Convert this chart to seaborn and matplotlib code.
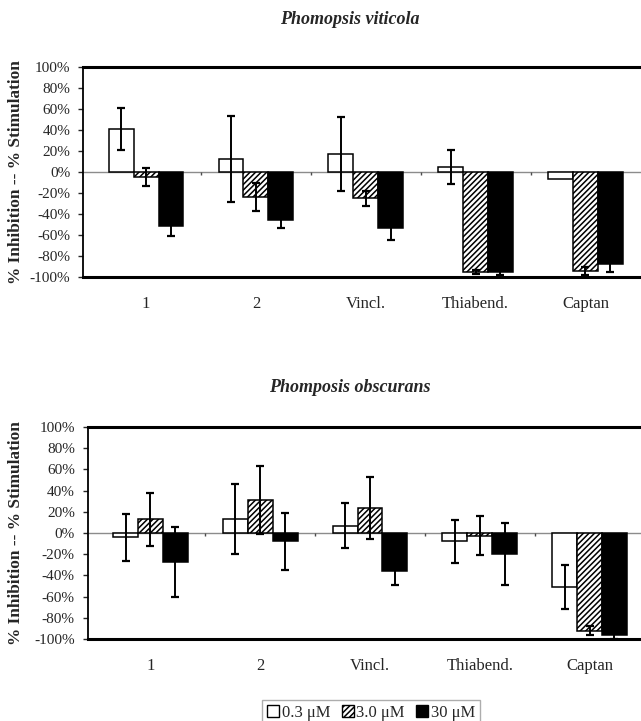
"""
Fungicide screen: % inhibition / % stimulation of two Phomopsis species
at three concentrations, drawn as grouped bars with error bars.
"""

import numpy as np
import pandas as pd
import seaborn as sns
import matplotlib.pyplot as plt
from matplotlib.patches import Patch
from matplotlib.ticker import FuncFormatter

# ---------------------------------------------------------------------------
# Data
# ---------------------------------------------------------------------------
compounds = ["1", "2", "Vincl.", "Thiabend.", "Captan"]
concs = ["0.3 \u03bcM", "3.0 \u03bcM", "30 \u03bcM"]

# Phomopsis viticola
vit_low = [41, 12, 17, 5, -7]
vit_mid = [-5, -23.5, -25, -95.5, -94]
vit_high = [-51, -46, -53, -95, -88]
vit_low_err = [20, 41, 35, 16, np.nan]
vit_mid_err = [8.5, 13.5, 7, 2, 4]
vit_high_err = [10, 7, 12, 3.5, 7]

# Phomposis obscurans
obs_low = [-4, 13, 7, -8, -51]
obs_mid = [13, 31, 23.5, -2.5, -92]
obs_high = [-27, -8, -35.5, -20, -96]
obs_low_err = [22, 33, 21, 20, 21]
obs_mid_err = [25, 32, 29.5, 18.5, 4.5]
obs_high_err = [33, 26.5, 14, 29.5, 4]

titles = ["Phomopsis viticola", "Phomposis obscurans"]
ylabel = "% Inhibition -- % Stimulation"


def make_frame(low, mid, high, low_err, mid_err, high_err):
    # long table: one row per compound / concentration
    rows = []
    for vals, errs, conc in [(low, low_err, concs[0]), (mid, mid_err, concs[1]), (high, high_err, concs[2])]:
        for comp, v, e in zip(compounds, vals, errs):
            rows.append({"compound": comp, "conc": conc, "value": v, "err": e})
    return pd.DataFrame(rows)


frames = [
    make_frame(vit_low, vit_mid, vit_high, vit_low_err, vit_mid_err, vit_high_err),
    make_frame(obs_low, obs_mid, obs_high, obs_low_err, obs_mid_err, obs_high_err),
]

# ---------------------------------------------------------------------------
# Styling
# ---------------------------------------------------------------------------
sns.set_style("white")
plt.rcParams["font.family"] = ["Liberation Serif", "DejaVu Serif"]
plt.rcParams["hatch.linewidth"] = 1.1
plt.rcParams["hatch.color"] = "black"

fig = plt.figure(figsize=(6.41, 7.21), dpi=100)
W, H = 641, 721

# axes boxes in pixels: left, top, right, bottom (right edge runs off the page)
boxes = [(83, 67, 648.5, 277), (87.5, 427, 652.5, 639)]
title_y = [20, 388]

for df, (l, t, r, b), title, ty in zip(frames, boxes, titles, title_y):
    ax = fig.add_axes([l / W, 1 - b / H, (r - l) / W, (b - t) / H])

    sns.barplot(data=df, x="compound", y="value", hue="conc", order=compounds,
                hue_order=concs, palette=["white", "white", "black"],
                edgecolor="black", linewidth=1.1, width=0.68, errorbar=None,
                legend=False, ax=ax, zorder=2)

    # hatch the middle concentration, then hang the error bars on the bars
    bar_sets = list(ax.containers)
    for i, cont in enumerate(bar_sets):
        sub = df[df["conc"] == concs[i]].set_index("compound").loc[compounds]
        xs = [p.get_x() + p.get_width() / 2 for p in cont.patches]
        if i == 1:
            for p in cont.patches:
                p.set_hatch("//////")
        ok = ~sub["err"].isna().values
        ax.errorbar(np.array(xs)[ok], sub["value"].values[ok], yerr=sub["err"].values[ok],
                    fmt="none", ecolor="black", elinewidth=1.4, capsize=3,
                    capthick=1.6, zorder=3)

    # grey zero line with little ticks between the groups
    ax.axhline(0, color="0.55", lw=1, zorder=1.5)
    ax.vlines(np.arange(len(compounds) - 1) + 0.5, -3, 0, color="0.3", lw=1, zorder=1.5)

    ax.set_ylim(-100, 100)
    ax.set_yticks(np.arange(-100, 101, 20))
    ax.yaxis.set_major_formatter(FuncFormatter(lambda v, p: f"{v:.0f}%"))
    ax.tick_params(axis="y", left=True, length=3.6, width=1, pad=5.5, labelsize=11)
    ax.tick_params(axis="x", length=0, pad=14, labelsize=12)
    ax.set_xlabel("")
    ax.set_ylabel(ylabel, fontsize=12.4, fontweight="bold")
    # label box's right edge sits about 24 px from the page edge
    ax.yaxis.set_label_coords((24 - l) / (r - l), 0.5)

    for side in ["top", "bottom"]:
        ax.spines[side].set_linewidth(2.2)
    ax.spines["left"].set_linewidth(1.3)
    for side in ax.spines:
        ax.spines[side].set_color("black")

    fig.text(350 / W, 1 - ty / H, title, ha="center", va="center",
             fontsize=13, fontweight="bold", fontstyle="italic")

# legend under the lower chart
handles = [
    Patch(facecolor="white", edgecolor="black", lw=1),
    Patch(facecolor="white", edgecolor="black", hatch="//////", lw=1),
    Patch(facecolor="black", edgecolor="black", lw=1),
]
leg = fig.legend(handles, concs, loc="upper left", bbox_to_anchor=(262 / W, 1 - 700 / H),
                 ncol=3, fontsize=12, handlelength=0.72, handleheight=0.72,
                 handletextpad=0.15, columnspacing=0.7, borderpad=0.3,
                 borderaxespad=0, fancybox=False, frameon=True)
leg.get_frame().set_edgecolor("0.6")
leg.get_frame().set_linewidth(1)

plt.savefig("out.png", dpi=100)
